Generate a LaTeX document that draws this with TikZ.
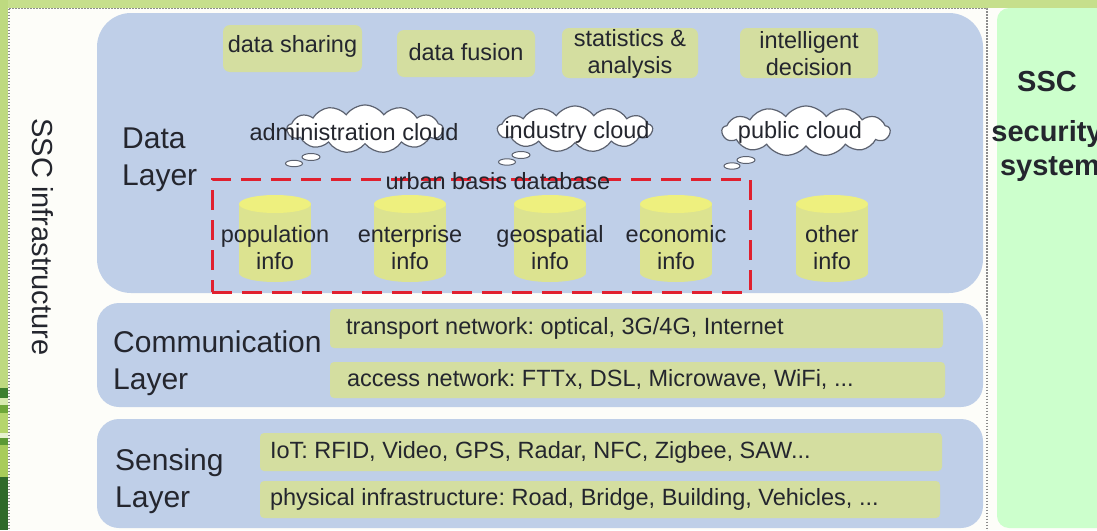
\documentclass[tikz,border=0pt]{standalone}
\usepackage{fontspec}
\setmainfont{Liberation Sans}
\usetikzlibrary{shapes.symbols}
\frenchspacing
\definecolor{topgreen}{HTML}{C6DF8C}
\definecolor{leftgreen}{HTML}{BEDA80}
\definecolor{panelwhite}{HTML}{FDFDF9}
\definecolor{mint}{HTML}{CCFFCC}
\definecolor{dotgray}{HTML}{8C8C8C}
\definecolor{blueL}{HTML}{BFCFE8}
\definecolor{boxgreen}{HTML}{D4DEA0}
\definecolor{cylbody}{HTML}{DCE390}
\definecolor{cyltop}{HTML}{EEF07E}
\definecolor{txtc}{HTML}{24262E}
\definecolor{cloudc}{HTML}{5C6270}
\definecolor{reddash}{HTML}{E0202E}
\definecolor{strA}{HTML}{3C7F2E}
\definecolor{strB}{HTML}{D8EBB0}
\definecolor{strC}{HTML}{6FA83A}
\definecolor{strD}{HTML}{B5D56C}
\definecolor{strE}{HTML}{E8F2D0}
\definecolor{strF}{HTML}{5C9A34}
\definecolor{strG}{HTML}{A8CC5A}
\definecolor{strH}{HTML}{2F6A2A}
\newcommand\fsz[2]{\fontsize{#1}{#2}\selectfont}
\tikzset{
  layerbox/.style={fill=blueL, inner sep=0, rounded corners=#1},
  topbox/.style={fill=boxgreen, rounded corners=7, inner sep=0},
  barbox/.style={fill=boxgreen, rounded corners=4, inner sep=0},
  txt/.style={text=txtc, font=\fsz{23.5}{27}, inner sep=0, align=center},
  bartxt/.style={text=txtc, font=\fsz{23.5}{27}, inner sep=0, anchor=west, text height=17, text depth=5},
  lbl/.style={text=txtc, font=\fsz{30}{37}, inner sep=0, align=left, anchor=west},
  cloudbox/.style={cloud, cloud puffs=13, cloud puff arc=110, aspect=3.3, draw=cloudc, line width=1.2pt, fill=white, inner sep=0},
  bubble/.style={draw=cloudc, line width=1pt, fill=white},
  urbanbox/.style={draw=reddash, line width=3pt, dash pattern=on 20pt off 10pt, inner sep=0},
  dotline/.style={draw=dotgray, line width=1.6pt, dash pattern=on 1.6pt off 1.4pt},
  sectxt/.style={text=txtc, font=\bfseries\fsz{29}{34}, inner sep=0, anchor=base}
}
\begin{document}
\begin{tikzpicture}[x=1pt,y=-1pt]
\useasboundingbox (0,0) rectangle (1097,530);
% backgrounds
\fill[panelwhite] (0,0) rectangle (1097,530);
\fill[topgreen] (0,0) rectangle (1097,7.5);
\fill[leftgreen] (0,0) rectangle (8,530);
\fill[strA] (0,388) rectangle (8,398);
\fill[strB] (0,398) rectangle (8,405);
\fill[strC] (0,405) rectangle (8,413);
\fill[strD] (0,413) rectangle (8,433);
\fill[strE] (0,433) rectangle (8,438);
\fill[strF] (0,438) rectangle (8,445);
\fill[strG] (0,445) rectangle (8,477);
\fill[strH] (0,477) rectangle (8,530);
\fill[mint, rounded corners=12] (997,8) rectangle (1125,528);
\draw[dotline] (9,8.5) -- (987,8.5) -- (987,531);
\draw[dotline] (9,8.5) -- (9,531);

% left vertical title
\node[text=txtc, font=\fsz{29}{34}, inner sep=0, rotate=-90] (infra) at (43,237) {SSC infrastructure};

% layer boxes
\node[layerbox=34, minimum width=886, minimum height=280] (dataL) at (540,153) {};
\node[layerbox=22, minimum width=886, minimum height=104] (commL) at (540,355) {};
\node[layerbox=22, minimum width=886, minimum height=109] (sensL) at (540,473.5) {};

% layer labels
\node[lbl] (dataLbl) at (122,159.5) {Data\\Layer};
\node[lbl] (commLbl) at (113,363) {Communication\\Layer};
\node[lbl] (sensLbl) at (115,481.5) {Sensing\\Layer};

% top service boxes
\node[topbox, minimum width=139, minimum height=47] (share) at (292.5,48.5) {};
\node[txt] at ([yshift=2]share) {data sharing};
\node[topbox, minimum width=138, minimum height=47] (fusion) at (466,53.5) {};
\node[txt] at ([yshift=1]fusion) {data fusion};
\node[topbox, minimum width=136, minimum height=50] (stats) at (630,53) {};
\node[txt] at ([yshift=-1]stats) {statistics \&\\analysis};
\node[topbox, minimum width=138, minimum height=50] (intel) at (809,53) {};
\node[txt] at ([yshift=-1]intel) {intelligent\\decision};

% clouds
\node[cloudbox, minimum width=156, minimum height=48] (admc) at (365,129) {};
\draw[bubble] (311,157) ellipse [x radius=9, y radius=3.5];
\draw[bubble] (294,163.5) ellipse [x radius=8.5, y radius=3.2];
\node[txt] (admt) at (354,132) {administration cloud};

\node[cloudbox, minimum width=155, minimum height=46] (indc) at (575,129) {};
\draw[bubble] (521,155) ellipse [x radius=9, y radius=3.5];
\draw[bubble] (507,162) ellipse [x radius=8.5, y radius=3.2];
\node[txt] (indt) at (577,132) {industry cloud};

\node[cloudbox, minimum width=168, minimum height=50] (pubc) at (806,131) {};
\draw[bubble] (746,160) ellipse [x radius=9, y radius=3.5];
\draw[bubble] (732,166) ellipse [x radius=8, y radius=3.2];
\node[txt] (pubt) at (800,132) {public cloud};

% urban basis database
\node[urbanbox, minimum width=538, minimum height=113] (ubd) at (481,235.5) {};
\node[txt] (ubdt) at (498,181) {urban basis database};

% cylinders
\foreach \cx/\nm/\lab in {275/pop/population\\info, 410/ent/enterprise\\info, 550/geo/geospatial\\info, 676/eco/economic\\info, 832/oth/other\\info}{
  \fill[cylbody] (\cx-36,204) rectangle (\cx+36,273);
  \fill[cylbody] (\cx,273) ellipse [x radius=36, y radius=9];
  \fill[cyltop] (\cx,204) ellipse [x radius=36, y radius=9];
  \node[txt] (\nm) at (\cx,248) {\lab};
}

% communication bars
\node[barbox, minimum width=613, minimum height=39] (trans) at (636.5,328.5) {};
\node[bartxt] (transt) at ([xshift=16]trans.west) {transport network: optical, 3G/4G, Internet};
\node[barbox, minimum width=615, minimum height=36] (acc) at (637.5,380) {};
\node[bartxt] (acct) at ([xshift=17]acc.west) {access network: FTTx, DSL, Microwave, WiFi, ...};

% sensing bars
\node[barbox, minimum width=682, minimum height=38] (iot) at (601,452) {};
\node[bartxt] (iott) at ([xshift=10]iot.west) {IoT: RFID, Video, GPS, Radar, NFC, Zigbee, SAW...};
\node[barbox, minimum width=680, minimum height=37] (phys) at (600,499.5) {};
\node[bartxt] (physt) at ([xshift=10]phys.west) {physical infrastructure: Road, Bridge, Building, Vehicles, ...};

% security system
\node[sectxt] (ssc) at (1047,91) {SSC};
\node[sectxt] (sec) at (1047,141) {security};
\node[sectxt] (sys) at (1050,175) {system};
\end{tikzpicture}
\end{document}
